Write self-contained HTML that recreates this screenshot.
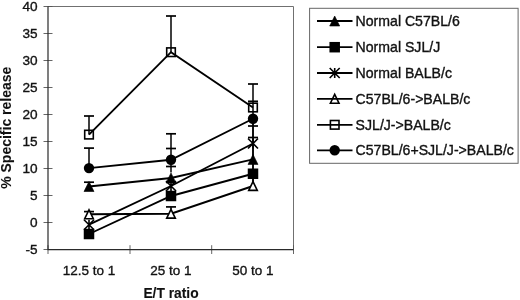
<!DOCTYPE html>
<html><head><meta charset="utf-8"><title>chart</title>
<style>
html,body{margin:0;padding:0;background:#fff;}
body{width:520px;height:300px;overflow:hidden;}
svg{display:block;font-family:"Liberation Sans",sans-serif;filter:blur(0.4px);}
text{stroke:#111;stroke-width:0.35px;paint-order:stroke fill;}
</style></head><body>
<svg width="520" height="300" viewBox="0 0 520 300">
<rect width="520" height="300" fill="#fff"/>

<path d="M48,6.5 H293.5 V249.7" fill="none" stroke="#707070" stroke-width="1"/>
<line x1="43.5" x2="52.5" y1="6.5" y2="6.5" stroke="#555" stroke-width="0.9"/>
<line x1="43.5" x2="52.5" y1="33.5" y2="33.5" stroke="#555" stroke-width="0.9"/>
<line x1="43.5" x2="52.5" y1="60.5" y2="60.5" stroke="#555" stroke-width="0.9"/>
<line x1="43.5" x2="52.5" y1="87.5" y2="87.5" stroke="#555" stroke-width="0.9"/>
<line x1="43.5" x2="52.5" y1="114.5" y2="114.5" stroke="#555" stroke-width="0.9"/>
<line x1="43.5" x2="52.5" y1="141.5" y2="141.5" stroke="#555" stroke-width="0.9"/>
<line x1="43.5" x2="52.5" y1="168.5" y2="168.5" stroke="#555" stroke-width="0.9"/>
<line x1="43.5" x2="52.5" y1="195.5" y2="195.5" stroke="#555" stroke-width="0.9"/>
<line x1="43.5" x2="52.5" y1="222.5" y2="222.5" stroke="#555" stroke-width="0.9"/>
<line x1="43.5" x2="52.5" y1="249.5" y2="249.5" stroke="#555" stroke-width="0.9"/>
<line x1="48" x2="48" y1="245.2" y2="254" stroke="#555" stroke-width="0.9"/>
<line x1="130" x2="130" y1="245.2" y2="254" stroke="#555" stroke-width="0.9"/>
<line x1="211.7" x2="211.7" y1="245.2" y2="254" stroke="#555" stroke-width="0.9"/>
<line x1="293.5" x2="293.5" y1="245.2" y2="254" stroke="#555" stroke-width="0.9"/>
<path d="M48,6.5 V249.7 H293.5" fill="none" stroke="#2a2a2a" stroke-width="1.2"/>
<text x="37.6" y="11.4" font-size="13.6" text-anchor="end" fill="#111">40</text>
<text x="37.6" y="38.4" font-size="13.6" text-anchor="end" fill="#111">35</text>
<text x="37.6" y="65.4" font-size="13.6" text-anchor="end" fill="#111">30</text>
<text x="37.6" y="92.4" font-size="13.6" text-anchor="end" fill="#111">25</text>
<text x="37.6" y="119.4" font-size="13.6" text-anchor="end" fill="#111">20</text>
<text x="37.6" y="146.4" font-size="13.6" text-anchor="end" fill="#111">15</text>
<text x="37.6" y="173.4" font-size="13.6" text-anchor="end" fill="#111">10</text>
<text x="37.6" y="200.4" font-size="13.6" text-anchor="end" fill="#111">5</text>
<text x="37.6" y="227.4" font-size="13.6" text-anchor="end" fill="#111">0</text>
<text x="37.6" y="254.4" font-size="13.6" text-anchor="end" fill="#111">-5</text>
<text x="89" y="274.6" font-size="13.5" text-anchor="middle" fill="#111">12.5 to 1</text>
<text x="171" y="274.6" font-size="13.5" text-anchor="middle" fill="#111">25 to 1</text>
<text x="253" y="274.6" font-size="13.5" text-anchor="middle" fill="#111">50 to 1</text>
<text x="171" y="298.2" font-size="13.8" font-weight="bold" style="stroke-width:0.1px" text-anchor="middle" fill="#111">E/T ratio</text>
<text transform="translate(11.3,127.75) rotate(-90)" font-size="14" font-weight="bold" style="stroke-width:0.1px" text-anchor="middle" fill="#111">% Specific release</text>
<line x1="84" x2="94" y1="116" y2="116" stroke="#000" stroke-width="1.7"/>
<line x1="89" x2="89" y1="116" y2="134.6" stroke="#000" stroke-width="1.5"/>
<line x1="84" x2="94" y1="148.1" y2="148.1" stroke="#000" stroke-width="1.7"/>
<line x1="89" x2="89" y1="148.1" y2="168" stroke="#000" stroke-width="1.5"/>
<line x1="84" x2="94" y1="182.2" y2="182.2" stroke="#000" stroke-width="1.7"/>
<line x1="84" x2="94" y1="211.6" y2="211.6" stroke="#000" stroke-width="1.7"/>
<line x1="89" x2="89" y1="211.6" y2="214" stroke="#000" stroke-width="1.5"/>
<line x1="166" x2="176" y1="16" y2="16" stroke="#000" stroke-width="1.7"/>
<line x1="171" x2="171" y1="16" y2="52.2" stroke="#000" stroke-width="1.5"/>
<line x1="166" x2="176" y1="133.8" y2="133.8" stroke="#000" stroke-width="1.7"/>
<line x1="166" x2="176" y1="148.5" y2="148.5" stroke="#000" stroke-width="1.7"/>
<line x1="171" x2="171" y1="133.8" y2="172.5" stroke="#000" stroke-width="1.5"/>
<line x1="166" x2="176" y1="166.5" y2="166.5" stroke="#000" stroke-width="1.7"/>
<line x1="166" x2="176" y1="206.9" y2="206.9" stroke="#000" stroke-width="1.7"/>
<line x1="171" x2="171" y1="206.9" y2="209" stroke="#000" stroke-width="1.5"/>
<line x1="248" x2="258" y1="84" y2="84" stroke="#000" stroke-width="1.7"/>
<line x1="248" x2="258" y1="101.3" y2="101.3" stroke="#000" stroke-width="1.7"/>
<line x1="253" x2="253" y1="84" y2="182" stroke="#000" stroke-width="1.5"/>
<line x1="248" x2="258" y1="126" y2="126" stroke="#000" stroke-width="1.7"/>
<line x1="248" x2="258" y1="137.5" y2="137.5" stroke="#000" stroke-width="1.7"/>
<line x1="253" x2="253" y1="119" y2="182" stroke="#000" stroke-width="1.5"/>
<polyline points="89,186.5 171,178.0 253,159.4" fill="none" stroke="#000" stroke-width="1.9"/>
<polyline points="89,234.0 171,196.0 253,173.75" fill="none" stroke="#000" stroke-width="1.9"/>
<polyline points="89,224.7 171,186.0 253,143.5" fill="none" stroke="#000" stroke-width="1.9"/>
<polyline points="89,214.3 171,213.7 253,186.0" fill="none" stroke="#000" stroke-width="1.9"/>
<polyline points="89,134.6 171,52.2 253,107.5" fill="none" stroke="#000" stroke-width="1.9"/>
<polyline points="89,168.1 171,159.75 253,118.75" fill="none" stroke="#000" stroke-width="1.9"/>
<polygon points="89,181.5 94.0,191.5 84.0,191.5" fill="#000" stroke="#000" stroke-width="0.6"/>
<polygon points="171,173.0 176.0,183.0 166.0,183.0" fill="#000" stroke="#000" stroke-width="0.6"/>
<polygon points="253,154.4 258.0,164.4 248.0,164.4" fill="#000" stroke="#000" stroke-width="0.6"/>
<rect x="83.75" y="228.75" width="10.5" height="10.5" fill="#000"/>
<rect x="165.75" y="190.75" width="10.5" height="10.5" fill="#000"/>
<rect x="247.75" y="168.5" width="10.5" height="10.5" fill="#000"/>
<path d="M84.0,219.7 L94.0,229.7 M94.0,219.7 L84.0,229.7 M89,219.7 L89,229.7" stroke="#000" stroke-width="1.6" fill="none"/>
<path d="M166.0,181.0 L176.0,191.0 M176.0,181.0 L166.0,191.0 M171,181.0 L171,191.0" stroke="#000" stroke-width="1.6" fill="none"/>
<path d="M248.0,138.5 L258.0,148.5 M258.0,138.5 L248.0,148.5 M253,138.5 L253,148.5" stroke="#000" stroke-width="1.6" fill="none"/>
<polygon points="89,209.9 93.3,218.70000000000002 84.7,218.70000000000002" fill="#fff" stroke="#000" stroke-width="1.6"/>
<polygon points="171,209.29999999999998 175.3,218.1 166.7,218.1" fill="#fff" stroke="#000" stroke-width="1.6"/>
<polygon points="253,181.6 257.3,190.4 248.7,190.4" fill="#fff" stroke="#000" stroke-width="1.6"/>
<rect x="84.7" y="130.29999999999998" width="8.6" height="8.6" fill="none" stroke="#000" stroke-width="1.6"/>
<rect x="166.7" y="47.900000000000006" width="8.6" height="8.6" fill="none" stroke="#000" stroke-width="1.6"/>
<rect x="248.7" y="103.2" width="8.6" height="8.6" fill="none" stroke="#000" stroke-width="1.6"/>
<circle cx="89" cy="168.1" r="5.2" fill="#000"/>
<circle cx="171" cy="159.75" r="5.2" fill="#000"/>
<circle cx="253" cy="118.75" r="5.2" fill="#000"/>
<rect x="309.6" y="8.3" width="208.5" height="155" fill="#fff" stroke="#666" stroke-width="1"/>
<line x1="317" x2="352.5" y1="21.0" y2="21.0" stroke="#000" stroke-width="1.8"/>
<polygon points="334.7,16.0 339.7,26.0 329.7,26.0" fill="#000" stroke="#000" stroke-width="0.6"/>
<text x="355.6" y="26.0" font-size="14.1" fill="#111">Normal C57BL/6</text>
<line x1="317" x2="352.5" y1="47.2" y2="47.2" stroke="#000" stroke-width="1.8"/>
<rect x="329.45" y="41.95" width="10.5" height="10.5" fill="#000"/>
<text x="355.6" y="52.2" font-size="14.1" fill="#111">Normal SJL/J</text>
<line x1="317" x2="352.5" y1="73.0" y2="73.0" stroke="#000" stroke-width="1.8"/>
<path d="M329.7,68.0 L339.7,78.0 M339.7,68.0 L329.7,78.0 M334.7,68.0 L334.7,78.0" stroke="#000" stroke-width="1.6" fill="none"/>
<text x="355.6" y="78.0" font-size="14.1" fill="#111">Normal BALB/c</text>
<line x1="317" x2="352.5" y1="98.8" y2="98.8" stroke="#000" stroke-width="1.8"/>
<polygon points="334.7,94.39999999999999 339.0,103.2 330.4,103.2" fill="none" stroke="#000" stroke-width="1.6"/>
<text x="355.6" y="103.8" font-size="14.1" fill="#111">C57BL/6-&gt;BALB/c</text>
<line x1="317" x2="352.5" y1="124.8" y2="124.8" stroke="#000" stroke-width="1.8"/>
<rect x="330.4" y="120.5" width="8.6" height="8.6" fill="none" stroke="#000" stroke-width="1.6"/>
<text x="355.6" y="129.8" font-size="14.1" fill="#111">SJL/J-&gt;BALB/c</text>
<line x1="317" x2="352.5" y1="150.3" y2="150.3" stroke="#000" stroke-width="1.8"/>
<circle cx="334.7" cy="150.3" r="5.2" fill="#000"/>
<text x="355.6" y="155.3" font-size="14.1" fill="#111">C57BL/6+SJL/J-&gt;BALB/c</text>
</svg></body></html>
